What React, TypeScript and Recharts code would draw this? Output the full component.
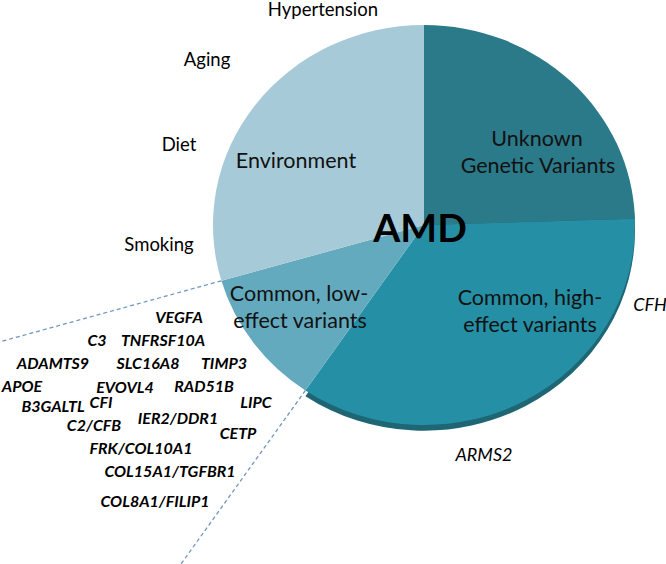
import React from "react";
import { PieChart, Pie, Cell } from "recharts";

document.body.style.margin = "0";

// slice shares, read clockwise from 12 o'clock
const SLICES = ["Unknown Genetic Variants", "Common, high-effect variants", "Common, low-effect variants", "Environment"];
const SHARES = [24.5, 35, 11, 29.5];
const COLORS = ["#2b7a89", "#2590a5", "#63aabe", "#a6cad7"];
const RIM = ["#1c5763", "#1f6675", "transparent", "transparent"];

const ENV_FACTORS = ["Hypertension", "Aging", "Diet", "Smoking"];
const HIGH_GENES = ["CFH", "ARMS2"];
const LOW_GENES = [
  "VEGFA", "C3", "TNFRSF10A", "ADAMTS9", "SLC16A8", "TIMP3", "APOE", "EVOVL4",
  "RAD51B", "B3GALTL", "CFI", "LIPC", "C2/CFB", "IER2/DDR1", "CETP",
  "FRK/COL10A1", "COL15A1/TGFBR1", "COL8A1/FILIP1",
];

const chartData = SLICES.map((name, i) => ({ name, value: SHARES[i] }));

// text placement (x center, baseline)
const envPos = [[323, 16], [207, 66], [179, 151], [159, 251]];
const highPos = [[650, 311], [484, 461]];
const genePos = [
  [179, 323], [97, 346], [163, 346], [53, 369], [148, 369], [224, 369],
  [22, 392], [125, 393], [204, 392], [53, 412], [101, 408], [256, 408],
  [94, 431], [178, 424], [238, 439], [141, 454], [170, 477], [155, 507],
];

const CX = 424;
const CY = 225;
const R = 211;
const SQUASH = 0.948;
const RAD = Math.PI / 180;

const font = "Lato, 'Open Sans', sans-serif";

function boundaryLines(props: any) {
  if (props.index !== 2) return null;
  const { cx, cy, outerRadius, startAngle, endAngle } = props;
  const seg = (a: number, i: number) => {
    const x1 = cx + Math.cos(-a * RAD) * outerRadius;
    const y1 = cy + Math.sin(-a * RAD) * outerRadius;
    const x2 = cx + Math.cos(-a * RAD) * outerRadius * 2.5;
    const y2 = cy + Math.sin(-a * RAD) * outerRadius * 2.5;
    return (
      <line key={i} x1={x1} y1={y1} x2={x2} y2={y2} stroke="#6f94bd" strokeWidth={1.3} strokeDasharray="4 3" />
    );
  };
  return <g>{[startAngle, endAngle].map(seg)}</g>;
}

export default function App() {
  return (
    <div style={{ position: "relative", width: 666, height: 564, background: "#fff", overflow: "hidden" }}>
      <div style={{ transform: `scaleY(${SQUASH})`, transformOrigin: `0 ${CY}px` }}>
        <PieChart width={666} height={600} margin={{ top: 0, right: 0, bottom: 0, left: 0 }}>
          <Pie
            data={chartData}
            dataKey="value"
            cx={CX}
            cy={CY + 6}
            outerRadius={R}
            startAngle={90}
            endAngle={-270}
            stroke="none"
            isAnimationActive={false}
          >
            {chartData.map((_, i) => (
              <Cell key={`rim-${i}`} fill={RIM[i]} />
            ))}
          </Pie>
          <Pie
            data={chartData}
            dataKey="value"
            cx={CX}
            cy={CY}
            outerRadius={R}
            startAngle={90}
            endAngle={-270}
            stroke="none"
            label={boundaryLines}
            labelLine={false}
            isAnimationActive={false}
          >
            {chartData.map((_, i) => (
              <Cell key={`cell-${i}`} fill={COLORS[i]} />
            ))}
          </Pie>
        </PieChart>
      </div>
      <svg
        width={666}
        height={564}
        style={{ position: "absolute", left: 0, top: 0, pointerEvents: "none" }}
        fontFamily={font}
      >
        <text x={420} y={242} textAnchor="middle" fontSize={39} fontWeight={700} fill="#000">AMD</text>

        <text x={537} y={146} textAnchor="middle" fontSize={21.5} fill="#111">Unknown</text>
        <text x={538} y={173} textAnchor="middle" fontSize={21.5} fill="#111">Genetic Variants</text>
        <text x={296} y={168} textAnchor="middle" fontSize={21.5} fill="#111">Environment</text>
        <text x={299} y={301} textAnchor="middle" fontSize={21.5} fill="#111">Common, low-</text>
        <text x={300} y={328} textAnchor="middle" fontSize={21.5} fill="#111">effect variants</text>
        <text x={530} y={305} textAnchor="middle" fontSize={21.5} fill="#111">Common, high-</text>
        <text x={530} y={332} textAnchor="middle" fontSize={21.5} fill="#111">effect variants</text>

        {ENV_FACTORS.map((t, i) => (
          <text key={t} x={envPos[i][0]} y={envPos[i][1]} textAnchor="middle" fontSize={18.5} fill="#000">{t}</text>
        ))}
        {HIGH_GENES.map((t, i) => (
          <text key={t} x={highPos[i][0]} y={highPos[i][1]} textAnchor="middle" fontSize={18} fontStyle="italic" fill="#000">{t}</text>
        ))}
        {LOW_GENES.map((t, i) => (
          <text key={t} x={genePos[i][0]} y={genePos[i][1]} textAnchor="middle" fontSize={16} fontWeight={700} fontStyle="italic" fill="#000">{t}</text>
        ))}
      </svg>
    </div>
  );
}
